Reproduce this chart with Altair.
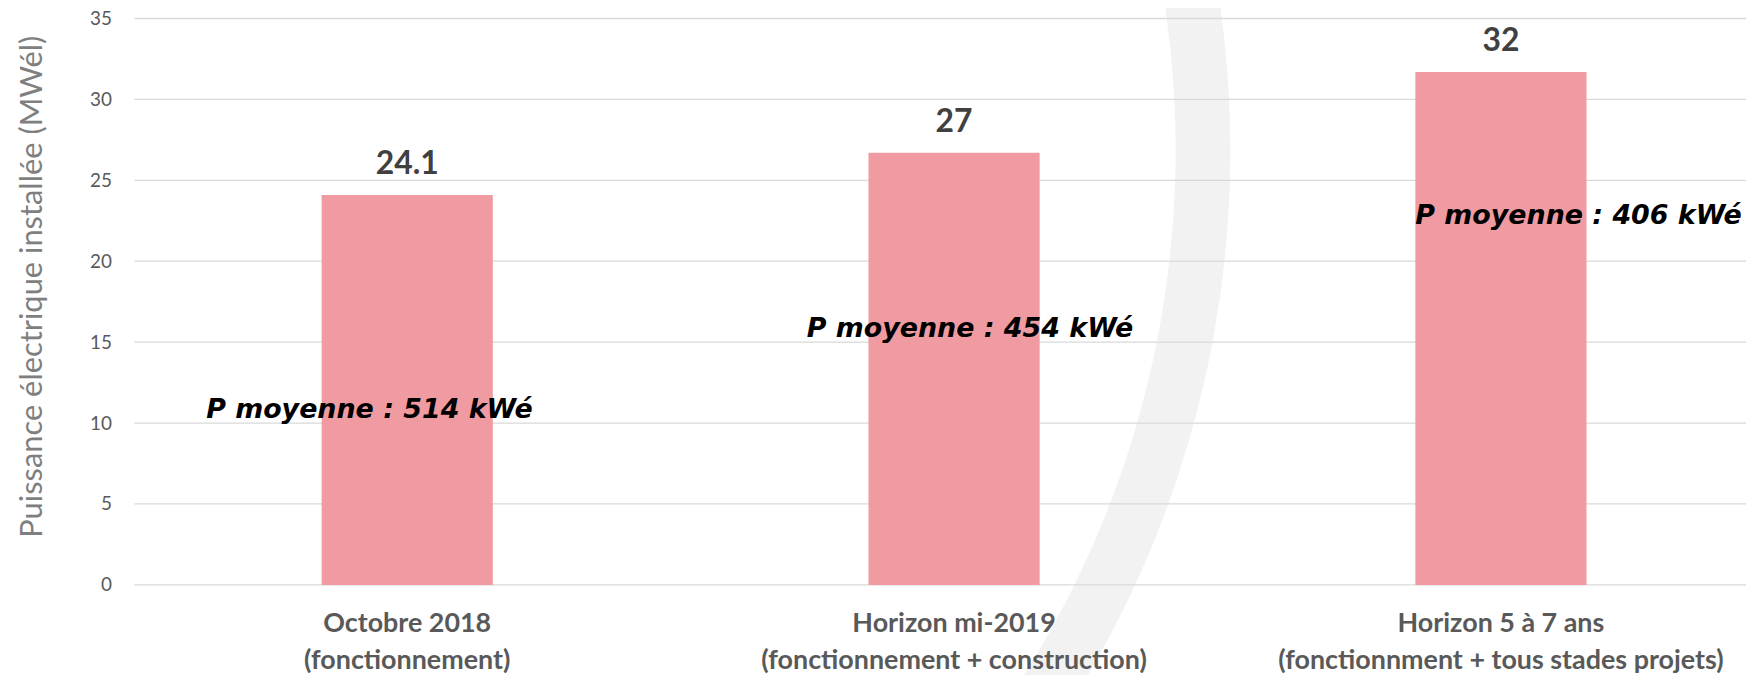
import altair as alt
import pandas as pd

# ---- data ----
categories = [
    "Octobre 2018|(fonctionnement)",
    "Horizon mi-2019|(fonctionnement + construction)",
    "Horizon 5 à 7 ans|(fonctionnment + tous stades projets)",
]
values = [24.1, 26.7, 31.7]
value_labels = ["24.1", "27", "32"]
notes = ["P moyenne : 514 kWé", "P moyenne : 454 kWé", "P moyenne : 406 kWé"]
note_levels = [10.3, 15.3, 22.3]
y_ticks = [0, 5, 10, 15, 20, 25, 30, 35]

df = pd.DataFrame({"cat": categories, "val": values, "lab": value_labels,
                   "note": notes, "note_y": note_levels})
grid_df = pd.DataFrame({"t": y_ticks})
deco_df = pd.DataFrame({"d": [0]})

FONT = "Lato"
note_dx = [-38, 16, 78]

x_enc = alt.X(
    "cat:N", sort=categories,
    scale=alt.Scale(paddingInner=0.687, paddingOuter=0.317, align=0.54, round=False),
    axis=alt.Axis(title=None, labelExpr="split(datum.label, '|')", labelAngle=0,
                  ticks=False, tickSize=0, domain=False, grid=False, zindex=2,
                  labelFont=FONT, labelFontWeight="bold", labelFontSize=27,
                  labelColor="#595959", labelLineHeight=37, labelPadding=26,
                  labelLimit=0, labelOverlap=False),
)
y_scale = alt.Scale(domain=[0, 35], nice=False)
y_axis = alt.Axis(values=y_ticks, grid=False, domain=False, ticks=False, tickSize=0,
                  labelPadding=23, labelFont=FONT, labelFontSize=19,
                  labelColor="#595959", zindex=2,
                  title="Puissance électrique installée (MWél)",
                  titleFont=FONT, titleFontWeight=400, titleFontSize=31,
                  titleColor="#7f7f7f", titleAngle=-90, titleX=-102, titleY=269,
                  titleAlign="center", titleBaseline="middle")

# decorative background arc of the slide
arc = alt.Chart(deco_df).mark_arc(color="#f2f2f2").encode(
    x=alt.value(60), y=alt.value(133),
    theta=alt.value(1.2), theta2=alt.value(2.3),
    radius=alt.value(1041), radius2=alt.value(986),
)

grid = alt.Chart(grid_df).mark_rule(color="#d9d9d9", strokeWidth=1.3).encode(
    y=alt.Y("t:Q", scale=y_scale, axis=y_axis)
)

bars = alt.Chart(df).mark_bar(color="#F09BA1").encode(
    x=x_enc,
    y=alt.Y("val:Q", scale=y_scale, axis=y_axis),
)

vlabels = alt.Chart(df).mark_text(font=FONT, fontWeight="bold", fontSize=32,
                                  color="#404040", baseline="alphabetic", dy=-21).encode(
    x=x_enc, y=alt.Y("val:Q", scale=y_scale, axis=y_axis), text="lab:N"
)

note_layers = []
for i in range(3):
    note_layers.append(
        alt.Chart(df).transform_filter(alt.datum.cat == categories[i]).mark_text(
            font="DejaVu Sans", fontWeight="bold", fontStyle="italic", fontSize=27,
            color="#000000", baseline="alphabetic", align="center", dx=note_dx[i]
        ).encode(x=x_enc, y=alt.Y("note_y:Q", scale=y_scale, axis=y_axis), text="note:N")
    )

chart = alt.layer(arc, grid, bars, vlabels, *note_layers).properties(
    width=1619, height=569,
    padding={"left": 127, "top": 9, "right": 0, "bottom": 89},
    autosize=alt.AutoSizeParams(type="none"),
    background="white",
).configure_view(stroke=None)

chart.save("out.html", embed_options={"renderer": "svg", "actions": False})
